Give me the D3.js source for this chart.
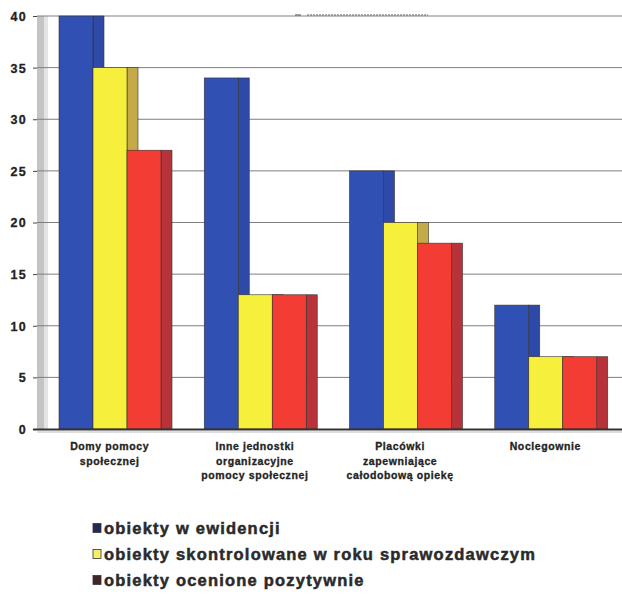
<!DOCTYPE html>
<html>
<head>
<meta charset="utf-8">
<script src="https://cdn.jsdelivr.net/npm/d3@7"></script>
<style>
  html, body { margin: 0; padding: 0; background: #ffffff; }
  svg { display: block; font-family: "Liberation Sans", Arial, sans-serif; }
</style>
</head>
<body>
<svg id="chart" width="622" height="598"></svg>
<script>
// ---- data ----
const categories = [
  "Domy pomocy społecznej",
  "Inne jednostki organizacyjne pomocy społecznej",
  "Placówki zapewniające całodobową opiekę",
  "Noclegownie"
];
const categoryLines = [
  ["Domy pomocy", "społecznej"],
  ["Inne jednostki", "organizacyjne", "pomocy społecznej"],
  ["Placówki", "zapewniające", "całodobową opiekę"],
  ["Noclegownie"]
];
const seriesNames = [
  "obiekty w ewidencji",
  "obiekty skontrolowane w roku sprawozdawczym",
  "obiekty ocenione pozytywnie"
];
const ewidencja = [40, 34, 25, 12];
const skontrolowane = [35, 13, 20, 7];
const pozytywne = [27, 13, 18, 7];
const yTicks = [0, 5, 10, 15, 20, 25, 30, 35, 40];

const seriesValues = [ewidencja, skontrolowane, pozytywne];
const frontColors = ["#3050b4", "#f6f03c", "#f23c34"];
const sideColors = ["#2d4aa8", "#c4aa48", "#b8323a"];
const legendColors = ["#202a52", "#f4ee6a", "#3c2628"];

// ---- layout ----
const svg = d3.select("#chart");
const wallX = 37, wallW = 11, rightX = 622;
const depth = 11;

const y = d3.scaleLinear().domain([0, 40]).range([429, 16]);
const x0 = d3.scaleBand().domain(categories).range([37, 618]).padding(0);
const x1 = d3.scaleBand().domain(seriesNames).range([22, 124]).padding(0);

// left wall
svg.append("rect")
  .attr("x", wallX).attr("y", y(40))
  .attr("width", wallW).attr("height", y(0) - y(40))
  .attr("fill", "#c4c4c4");
svg.append("rect")
  .attr("x", wallX + 7).attr("y", y(40))
  .attr("width", 4).attr("height", y(0) - y(40))
  .attr("fill", "#e4e4e4");

// gridlines
svg.append("g").selectAll("line")
  .data(yTicks.filter(t => t > 0))
  .join("line")
  .attr("x1", wallX).attr("x2", rightX)
  .attr("y1", d => y(d)).attr("y2", d => y(d))
  .attr("stroke", "#7e7e7e").attr("stroke-width", 1);

// faint illegible title remnant at top
svg.append("line")
  .attr("x1", 307).attr("x2", 428).attr("y1", 15).attr("y2", 15)
  .attr("stroke", "#666").attr("stroke-width", 1.2).attr("stroke-dasharray", "2,1");
svg.append("line")
  .attr("x1", 295).attr("x2", 301).attr("y1", 15).attr("y2", 15)
  .attr("stroke", "#666").attr("stroke-width", 1.2);

// y axis
const yAxis = d3.axisLeft(y).tickValues(yTicks).tickSize(4).tickPadding(6);
const ga = svg.append("g").attr("transform", `translate(${wallX},0)`).call(yAxis);
ga.select(".domain").remove();
ga.selectAll(".tick line").attr("stroke", "#444");
ga.selectAll(".tick text")
  .attr("fill", "#222")
  .style("font-size", "12.5px")
  .style("font-weight", "bold")
  .style("letter-spacing", "1.3px")
  .attr("stroke", "#222").attr("stroke-width", 0.3)
  .attr("dy", "0.35em");

// bars
const groups = svg.append("g").selectAll("g")
  .data(categories)
  .join("g")
  .attr("transform", d => `translate(${x0(d)},0)`);

seriesNames.forEach((s, si) => {
  groups.each(function(c, ci) {
    const g = d3.select(this);
    const v = seriesValues[si][ci];
    const bx = x1(s), bw = x1.bandwidth();
    g.append("rect")
      .attr("x", bx + bw).attr("y", y(v))
      .attr("width", depth).attr("height", y(0) - y(v))
      .attr("fill", sideColors[si])
      .attr("stroke", "#3a3030").attr("stroke-width", 0.6);
    g.append("rect")
      .attr("x", bx).attr("y", y(v))
      .attr("width", bw).attr("height", y(0) - y(v))
      .attr("fill", frontColors[si])
      .attr("stroke", "#3a3030").attr("stroke-width", 0.6);
  });
});

// floor / x axis line
svg.append("line")
  .attr("x1", wallX - 4).attr("x2", rightX)
  .attr("y1", y(0) + 0.5).attr("y2", y(0) + 0.5)
  .attr("stroke", "#333").attr("stroke-width", 2);
svg.append("line")
  .attr("x1", wallX).attr("x2", rightX)
  .attr("y1", y(0) + 3).attr("y2", y(0) + 3)
  .attr("stroke", "#bbb").attr("stroke-width", 1);

// category labels
categories.forEach((c, ci) => {
  const cx = x0(c) + x0.bandwidth() / 2;
  const t = svg.append("text")
    .attr("x", cx).attr("y", 450)
    .attr("text-anchor", "middle")
    .style("font-size", "10.5px").style("font-weight", "bold")
    .style("letter-spacing", "0.6px")
    .attr("stroke", "#222").attr("stroke-width", 0.3)
    .attr("fill", "#222");
  categoryLines[ci].forEach((ln, li) => {
    t.append("tspan").attr("x", cx).attr("dy", li === 0 ? 0 : 14.5).text(ln);
  });
});

// legend
const legend = svg.append("g");
seriesNames.forEach((s, si) => {
  const ry = 528 + si * 26;
  legend.append("rect")
    .attr("x", 93).attr("y", ry - 4.5).attr("width", 8).attr("height", 9)
    .attr("fill", legendColors[si]).attr("stroke", "#333").attr("stroke-width", 0.8);
  legend.append("text")
    .attr("x", 104).attr("y", ry + 5.5)
    .style("font-size", "16.5px").style("font-weight", "bold")
    .style("letter-spacing", "1.2px")
    .attr("stroke", "#2a2a2a").attr("stroke-width", 0.5)
    .attr("fill", "#2a2a2a")
    .text(s);
});
</script>
</body>
</html>
